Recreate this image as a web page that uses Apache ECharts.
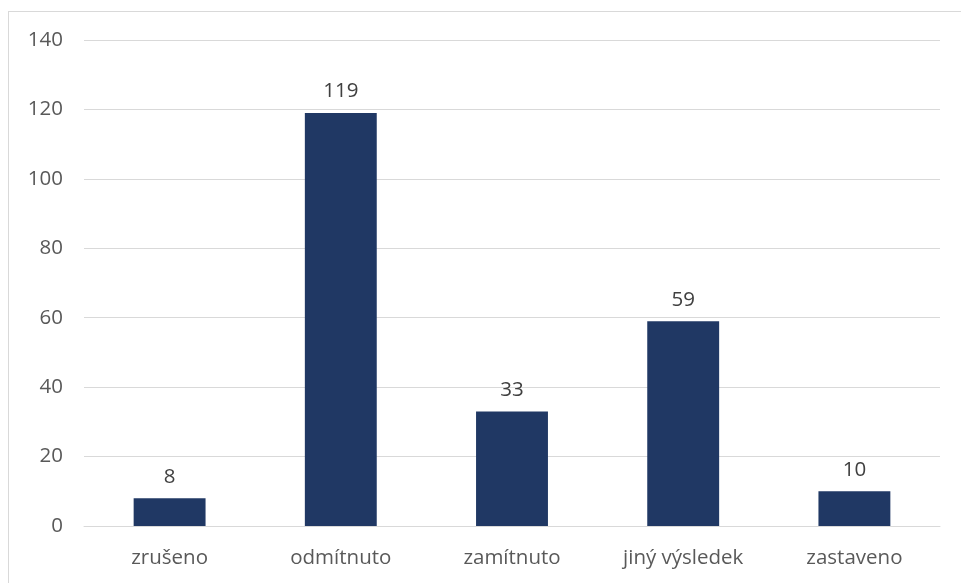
<!DOCTYPE html>
<html>
<head>
<meta charset="utf-8">
<script src="https://cdn.jsdelivr.net/npm/echarts@6/dist/echarts.min.js"></script>
<style>
html,body{margin:0;padding:0;background:#fff;overflow:hidden;}
#frame{position:absolute;left:8px;top:11px;width:1000px;height:600px;border:1px solid #d9d9d9;box-sizing:border-box;}
#chart{position:absolute;left:0;top:0;width:961px;height:583px;}
</style>
</head>
<body>
<div id="frame"></div>
<div id="chart"></div>
<script>
const categories = ["zrušeno", "odmítnuto", "zamítnuto", "jiný výsledek", "zastaveno"];
const values = [8, 119, 33, 59, 10];
const yTicks = [0, 20, 40, 60, 80, 100, 120, 140];

const chart = echarts.init(document.getElementById('chart'), null, {renderer: 'canvas'});
chart.setOption({
  animation: false,
  backgroundColor: 'transparent',
  grid: {left: 84, right: 21, top: 40, bottom: 57, containLabel: false},
  xAxis: {
    type: 'category',
    data: categories,
    axisLine: {show: true, lineStyle: {color: '#d9d9d9', width: 1}},
    axisTick: {show: false},
    axisLabel: {color: '#595959', fontSize: 20.5, fontFamily: 'Open Sans', margin: 22}
  },
  yAxis: {
    type: 'value',
    min: yTicks[0],
    max: yTicks[yTicks.length - 1],
    interval: 20,
    axisLine: {show: false},
    axisTick: {show: false},
    splitLine: {lineStyle: {color: '#d9d9d9', width: 1}},
    axisLabel: {color: '#595959', fontSize: 20.5, fontFamily: 'Open Sans', margin: 21}
  },
  series: [{
    type: 'bar',
    data: values,
    barCategoryGap: '58%',
    itemStyle: {color: '#203864'},
    label: {show: true, position: 'top', distance: 11, color: '#404040', fontSize: 20.5, fontFamily: 'Open Sans'}
  }]
});
</script>
</body>
</html>
